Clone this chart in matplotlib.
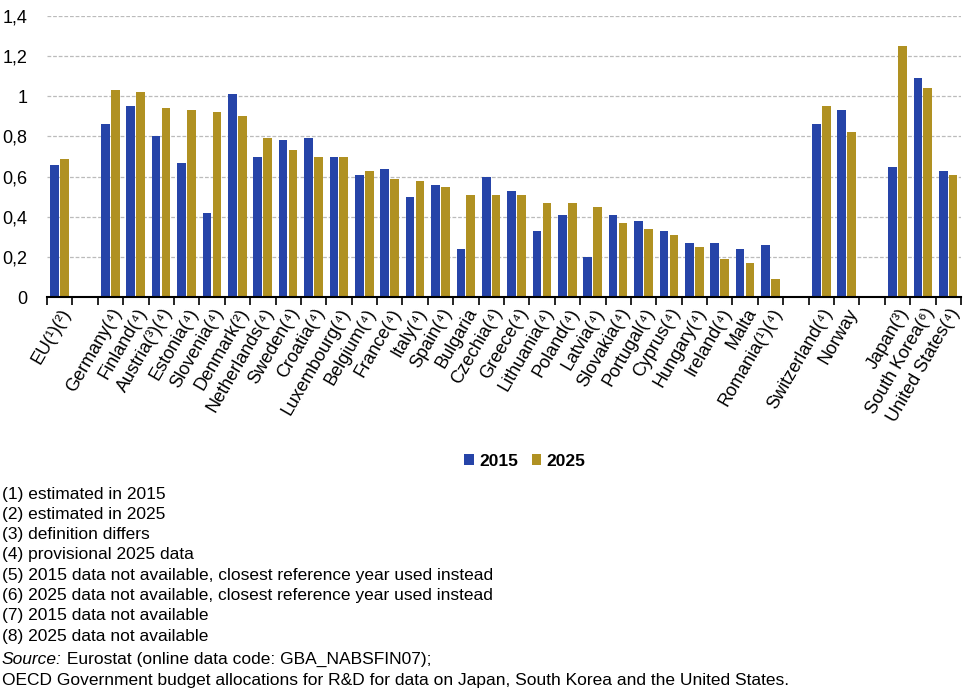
import matplotlib
matplotlib.use('Agg')
import matplotlib.pyplot as plt
import numpy as np

plt.rcParams['font.family'] = ['Liberation Sans', 'DejaVu Sans']

# categories ('' = empty gap slot)
countries = ['EU(¹)(²)', '',
             'Germany(⁴)', 'Finland(⁴)', 'Austria(³)(⁴)', 'Estonia(⁴)', 'Slovenia(⁴)',
             'Denmark(²)', 'Netherlands(⁴)', 'Sweden(⁴)', 'Croatia(⁴)', 'Luxembourg(⁴)',
             'Belgium(⁴)', 'France(⁴)', 'Italy(⁴)', 'Spain(⁴)', 'Bulgaria', 'Czechia(⁴)',
             'Greece(⁴)', 'Lithuania(⁴)', 'Poland(⁴)', 'Latvia(⁴)', 'Slovakia(⁴)',
             'Portugal(⁴)', 'Cyprus(⁴)', 'Hungary(⁴)', 'Ireland(⁴)', 'Malta', 'Romania(¹)(⁴)',
             '', 'Switzerland(⁴)', 'Norway', '',
             'Japan(³)', 'South Korea(⁶)', 'United States(⁴)']

vals_2015 = [0.66, np.nan,
             0.86, 0.95, 0.80, 0.67, 0.42, 1.01, 0.70, 0.78, 0.79, 0.70,
             0.61, 0.64, 0.50, 0.56, 0.24, 0.60, 0.53, 0.33, 0.41, 0.20,
             0.41, 0.38, 0.33, 0.27, 0.27, 0.24, 0.26,
             np.nan, 0.86, 0.93, np.nan,
             0.65, 1.09, 0.63]

vals_2025 = [0.69, np.nan,
             1.03, 1.02, 0.94, 0.93, 0.92, 0.90, 0.79, 0.73, 0.70, 0.70,
             0.63, 0.59, 0.58, 0.55, 0.51, 0.51, 0.51, 0.47, 0.47, 0.45,
             0.37, 0.34, 0.31, 0.25, 0.19, 0.17, 0.09,
             np.nan, 0.95, 0.82, np.nan,
             1.25, 1.04, 0.61]

footnotes = ['(1) estimated in 2015',
             '(2) estimated in 2025',
             '(3) definition differs',
             '(4) provisional 2025 data',
             '(5) 2015 data not available, closest reference year used instead',
             '(6) 2025 data not available, closest reference year used instead',
             '(7) 2015 data not available',
             '(8) 2025 data not available']

blue = '#2644A8'
gold = '#B09122'

fig = plt.figure(figsize=(9.67, 6.96), dpi=100)
ax = fig.add_axes([47/967, 1 - 297/696, (961 - 47)/967, (297 - 16)/696])

x = np.arange(len(countries))
w = 0.34
ax.bar(x - 0.2, vals_2015, w, color=blue, label='2015', zorder=3)
ax.bar(x + 0.19, vals_2025, w, color=gold, label='2025', zorder=3)

ax.set_xlim(-0.5, len(countries) - 0.5)
ax.set_ylim(0, 1.4)
ax.set_yticks(np.arange(0, 1.41, 0.2))
ax.set_yticklabels(['0', '0,2', '0,4', '0,6', '0,8', '1', '1,2', '1,4'], fontsize=13)
ax.yaxis.grid(True, linestyle=(0, (3, 1.5)), color='#bbbbbb', linewidth=0.9, zorder=0)
ax.tick_params(axis='y', length=0, pad=14)

# major ticks at slot boundaries, labels on minor ticks at centres
ax.set_xticks(np.arange(-0.5, len(countries), 1.0))
ax.set_xticklabels([])
ax.tick_params(axis='x', which='major', length=6, width=1.2, direction='out')
ax.set_xticks(x, minor=True)
ax.set_xticklabels(countries, minor=True, rotation=60, ha='right',
                   rotation_mode='anchor', fontsize=13)
ax.tick_params(axis='x', which='minor', length=0, pad=6)

for s in ['top', 'right', 'left']:
    ax.spines[s].set_visible(False)
ax.spines['bottom'].set_linewidth(1.5)
ax.spines['bottom'].set_zorder(4)

fig.legend(loc='center', bbox_to_anchor=(525/967, 1 - 461/696), ncol=2,
           frameon=False, handlelength=0.55, handleheight=0.55, handletextpad=0.3,
           columnspacing=0.8, prop={'weight': 'bold', 'size': 12.5})

y0 = 1 - 494/696
for i, t in enumerate(footnotes):
    fig.text(0.002, y0 - i * 20.3/696, t, fontsize=12.5, va='center')
src = fig.text(0.002, 1 - 659/696, 'Source:', fontsize=12.5, style='italic', va='center')
ax.annotate(' Eurostat (online data code: GBA_NABSFIN07);', xy=(1, 0.5), xycoords=src,
            fontsize=12.5, va='center', ha='left', annotation_clip=False)
fig.text(0.002, 1 - 680/696,
         'OECD Government budget allocations for R&D for data on Japan, South Korea and the United States.',
         fontsize=12.5, va='center')

fig.savefig('out.png', dpi=100)
